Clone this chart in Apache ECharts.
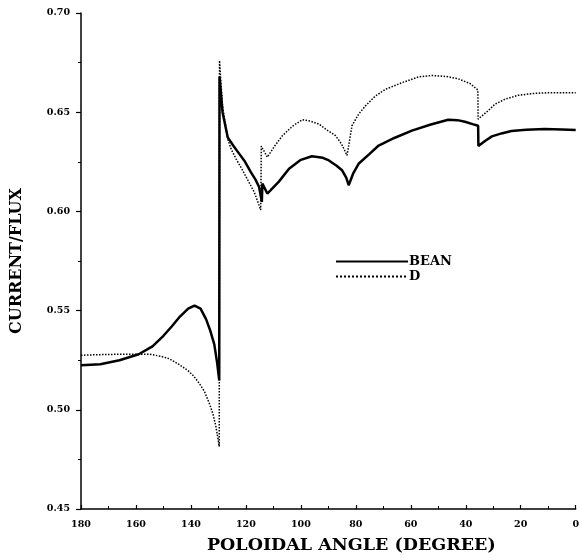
<!DOCTYPE html>
<html>
<head>
<meta charset="utf-8">
<script src="https://cdn.jsdelivr.net/npm/echarts@6/dist/echarts.min.js"></script>
<style>
html,body{margin:0;padding:0;background:#fff;}
#c{width:582px;height:559px;}
</style>
</head>
<body>
<div id="c"></div>
<script>
// Data
var seriesNames = ['BEAN', 'D'];
var beanAngle = [180,173,166,159,154,150,147,144,141,138.7,136.5,134.5,133,131.5,130.5,129.7,129.6,128.5,126.6,124.5,122.4,120.3,118.2,116.5,115.2,114.2,114.0,112.2,108,104.3,100,96,92,89.8,87,85,83.5,82.6,81,79,75,71.7,66,59.6,53,46.4,43,40.3,37.5,35.5,35.4,33,30.5,27,23.4,18,11.3,5,0];
var beanValue = [0.5225,0.523,0.525,0.528,0.532,0.5373,0.542,0.547,0.551,0.5525,0.551,0.5457,0.540,0.533,0.524,0.5148,0.668,0.650,0.6373,0.633,0.629,0.625,0.6198,0.616,0.6123,0.6048,0.614,0.609,0.615,0.6215,0.626,0.6278,0.627,0.6257,0.623,0.6207,0.617,0.6132,0.619,0.624,0.629,0.6332,0.637,0.6407,0.6437,0.6462,0.646,0.6452,0.644,0.6432,0.633,0.6355,0.6378,0.6393,0.6405,0.6412,0.6415,0.6413,0.641];
var dAngle = [180,173,166,159,155,151,147.8,144.5,141.1,139,136.9,135,133.3,132,130.9,129.7,129.6,128.5,126.6,125.4,123.6,121.2,119,117,115.7,114.6,114.4,112.2,109.5,106.7,103,99.5,96.5,93.4,90.5,87.4,85.2,83.2,81.4,79,76.5,73,69.3,63,57.2,52.4,47,42.7,38.5,35.6,35.5,31.9,29.4,25.8,21,15,10,0];
var dValue = [0.5275,0.5278,0.528,0.528,0.528,0.527,0.5257,0.523,0.5198,0.517,0.5132,0.509,0.5032,0.498,0.4915,0.4815,0.676,0.653,0.6365,0.6315,0.6265,0.6207,0.615,0.6098,0.605,0.6007,0.6329,0.6273,0.633,0.6382,0.643,0.6462,0.6455,0.644,0.641,0.6382,0.634,0.6282,0.6432,0.649,0.6532,0.658,0.6615,0.665,0.6678,0.6685,0.668,0.6668,0.6645,0.6612,0.6465,0.6507,0.654,0.6565,0.6585,0.6595,0.6598,0.6598];
var xTicks = [180,160,140,120,100,80,60,40,20,0];
var yTicks = ['0.45','0.50','0.55','0.60','0.65','0.70'];
var xTitle = 'POLOIDAL ANGLE (DEGREE)';
var yTitle = 'CURRENT/FLUX';

function pairs(a, v){ return a.map(function(x,i){ return [x, v[i]]; }); }

var FONT = 'DejaVu Serif';
var chart = echarts.init(document.getElementById('c'), null, {renderer:'canvas'});
chart.setOption({
  animation:false,
  backgroundColor:'#fff',
  grid:{left:81, right:4, top:13, bottom:46, containLabel:false},
  legend:{
    orient:'vertical', left:330, top:250, itemGap:2,
    itemWidth:72, itemHeight:12,
    data:seriesNames,
    itemStyle:{opacity:0},
    textStyle:{fontFamily:FONT, fontWeight:'bold', fontSize:13, color:'#000', padding:[0,0,6,-4]}
  },
  xAxis:{
    type:'value', inverse:true, min:0, max:180, interval:20,
    name:xTitle, nameLocation:'middle', nameGap:27,
    nameTextStyle:{fontFamily:FONT, fontWeight:'bold', fontSize:17.5, color:'#000', padding:[0,0,0,46]},
    axisLine:{lineStyle:{color:'#000', width:1.5}},
    axisTick:{inside:true, length:4, lineStyle:{color:'#000', width:1.2}},
    minorTick:{show:true, splitNumber:2, length:3, lineStyle:{color:'#000', width:1}},
    splitLine:{show:false},
    axisLabel:{fontFamily:FONT, fontWeight:'bold', fontSize:9.5, color:'#000', margin:11,
      formatter:function(v){ return xTicks.indexOf(v) >= 0 ? String(v) : ''; }}
  },
  yAxis:{
    type:'value', min:0.45, max:0.70, interval:0.05, position:'left',
    name:yTitle, nameLocation:'middle', nameGap:56,
    nameTextStyle:{fontFamily:FONT, fontWeight:'bold', fontSize:16, color:'#000'},
    axisLine:{show:true, onZero:false, lineStyle:{color:'#000', width:1.5}},
    axisTick:{show:true, length:5, lineStyle:{color:'#000', width:1.2}},
    minorTick:{show:true, splitNumber:2, length:3, lineStyle:{color:'#000', width:1}},
    splitLine:{show:false},
    axisLabel:{fontFamily:FONT, fontWeight:'bold', fontSize:9.5, color:'#000', margin:11,
      formatter:function(v){ var i = Math.round((v-0.45)/0.05); return yTicks[i] || ''; }}
  },
  series:[
    {name:seriesNames[0], type:'line', symbol:'none', data:pairs(beanAngle, beanValue),
      lineStyle:{color:'#000', width:2.5}, itemStyle:{color:'#000'}},
    {name:seriesNames[1], type:'line', symbol:'none', data:pairs(dAngle, dValue),
      lineStyle:{color:'#000', width:1.5, type:'dotted'}, itemStyle:{color:'#000'}}
  ]
});
</script>
</body>
</html>
